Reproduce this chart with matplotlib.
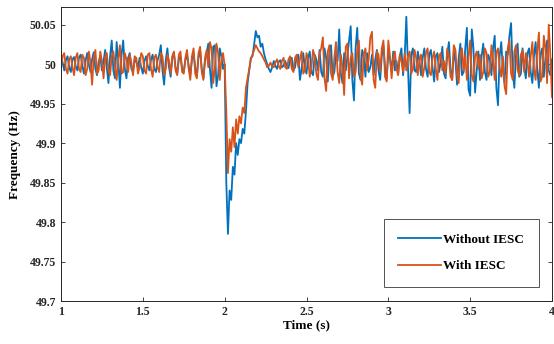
import numpy as np
import matplotlib
matplotlib.use("Agg")
import matplotlib.pyplot as plt

# time axis, 10 ms steps
t = np.round(np.arange(1.0, 4.0001, 0.01), 2)

# frequency deviation from 50 Hz, in mHz
dev_without = [
    12, 2, -8, 5, 10, -4, -10, 6, 9, -3,
    -8, 8, 12, -2, -12, 4, 14, 0, -10, 6,
    15, -6, -14, 3, 10, -8, 4, 18, -5, -24,
    10, 30, -8, -18, 28, 5, -30, 12, 30, -6,
    -18, 8, 14, -6, -10, 6, 3, -5, 8, -4,
    -12, 4, 10, -2, -8, 6, 12, -6, -10, 5,
    12, 24, -8, -26, 5, 20, -4, -16, 8, 14,
    -4, -12, 6, 10, -6, -10, 5, 12, -2, -14,
    6, 14, -4, -16, 8, 18, -6, -18, 4, 14,
    26, -6, -30, 22, 24, -28, -14, 20, 10, -6,
    0, -150, -215, -160, -172, -130, -140, -100, -115, -95,
    -100, -82, -88, -60, -24, -8, 8, 10, 25, 42,
    34, 36, 22, 26, 14, 6, 0, -6, -10, -4,
    4, -2, -6, 3, 5, -4, -2, 4, -3, -5,
    6, 8, -8, -4, 10, 12, -20, -6, 14, -4,
    -12, 8, 16, -10, -14, 12, 6, -8, 18, -10,
    -16, 20, 8, -22, 14, 24, -16, -10, 12, 4,
    44, -12, -24, 14, -8, 10, 30, 48, -20, -46,
    20, 46, -12, -20, 18, 10, -16, 14, -10, -4,
    12, -14, 6, 18, -8, -20, 10, 24, -4, -18,
    14, 8, -10, 16, -8, 4, -12, 10, 20, -14,
    10, 60, -4, -62, 12, 20, -8, -10, 16, 4,
    -14, 8, 20, -6, -16, 12, 18, -4, -22, 10,
    14, -10, 2, 22, -12, -18, 12, 28, -6, -20,
    16, 4, -26, 8, 26, -14, -10, 20, 46, -32,
    -40, 44, 20, -36, -8, 16, -20, 10, 26, -10,
    -20, 12, 6, -14, 20, 36, -30, -52, 10, 28,
    -8, -24, 16, 12, 36, 52, -10, -30, 14, 26,
    -16, -12, 20, -4, -18, 14, 20, -10, -24, 10,
    28, -6, -30, 12, 20, -16, 8, 30, -8, -14,
    6,
]

dev_with = [
    -6, 10, 14, -6, -12, 6, 10, -4, -14, 8,
    14, -6, -10, 12, 8, -14, -6, 16, 2, -26,
    8, 18, -12, -8, 16, 4, -18, 10, 14, -8,
    -14, 10, 16, -4, -20, 6, 24, -12, -10, 14,
    6, -10, 12, 2, -14, 10, 8, -12, -4, 14,
    10, -8, -12, 12, 14, -6, -16, 8, 12, -4,
    -10, 14, 10, -14, -6, 12, 4, -12, 10, 16,
    -8, -14, 12, 16, -10, -12, 8, 18, -6, -20,
    10, 20, -12, -18, 14, 22, -10, -20, 8, 18,
    -4, 28, 20, -24, -6, 26, 14, -20, 6, 14,
    -2, -60, -138, -95, -111, -80, -105, -70, -88, -66,
    -75, -55, -62, -30, -18, -6, 6, 12, 18, 24,
    20, 16, 14, 10, 6, 2, -4, -2, 2, -3,
    -4, 2, 6, -2, -6, 4, 8, -4, -6, 6,
    10, -6, -10, 8, 12, -4, 6, 16, -12, -8,
    14, 6, -16, -4, 18, 10, -12, -20, 14, 20,
    34, -18, -34, 16, 24, -12, -20, 8, 28, -10,
    -24, 12, -4, -39, 22, 26, -18, 8, 14, -16,
    -10, 18, 30, -14, -26, 12, 20, -8, 6, 34,
    41, -20, -30, 16, 12, -10, 20, 30, -16, -22,
    30, 10, -18, 8, 16, -6, -14, 12, 4, -10,
    14, -8, 10, 16, -12, -6, 18, 8, -14, 6,
    12, -16, -4, 14, 20, -10, -14, 8, 16, -6,
    -20, 10, 14, -8, 4, -12, 20, 10, -16, -20,
    24, 18, -14, -24, 14, 20, -8, 12, -20, 8,
    30, -14, -22, 10, 16, -6, 12, -18, -10, 20,
    14, -16, -10, 24, 6, -20, 14, 20, -4, -16,
    10, -28, -38, 20, 30, -12, -20, 16, 24, -8,
    -14, 12, 18, -10, 14, 4, -16, 10, 28, -6,
    -20, 16, 40, -22, -16, 36, 20, -24, 50, 10,
    -42,
]

f_without = 50 + np.array(dev_without) / 1000.0
f_with = 50 + np.array(dev_with) / 1000.0

xticks = [1, 1.5, 2, 2.5, 3, 3.5, 4]
xticklabels = ["1", "1.5", "2", "2.5", "3", "3.5", "4"]
yticks = [49.7, 49.75, 49.8, 49.85, 49.9, 49.95, 50, 50.05]
yticklabels = ["49.7", "49.75", "49.8", "49.85", "49.9", "49.95", "50", "50.05"]

plt.rcParams['font.family'] = ['Liberation Serif', 'DejaVu Serif']
plt.rcParams['font.weight'] = 'bold'

fig = plt.figure(figsize=(5.54, 3.44), dpi=100)
ax = fig.add_axes([61 / 554, 1 - 301 / 344, 491 / 554, 293.7 / 344])

ax.plot(t, f_without, color='#0072BD', lw=1.3, label='Without IESC')
ax.plot(t, f_with, color='#D95319', lw=1.3, label='With IESC')

ax.set_xlim(1, 4)
ax.set_ylim(49.7, 50.072)
ax.set_xticks(xticks)
ax.set_xticklabels(xticklabels)
ax.set_yticks(yticks)
ax.set_yticklabels(yticklabels)
ax.tick_params(direction='in', top=True, right=True, labelsize=8.5,
               length=3, width=0.6, colors='#262626')
for lab in ax.get_xticklabels() + ax.get_yticklabels():
    lab.set_fontweight('bold')
for s in ax.spines.values():
    s.set_color('#262626')
    s.set_linewidth(0.7)

ax.set_xlabel('Time (s)', fontsize=9.5, fontweight='bold', labelpad=1)
ax.set_ylabel('Frequency (Hz)', fontsize=9.5, fontweight='bold', labelpad=6)

leg = ax.legend(loc='lower right', bbox_to_anchor=(0.973, 0.048), borderaxespad=0,
                fontsize=9.5, frameon=True, fancybox=False, edgecolor='#262626',
                labelspacing=1.1, borderpad=1.1, handlelength=3.2, handletextpad=0.2)
leg.get_frame().set_linewidth(0.7)
for txt in leg.get_texts():
    txt.set_fontweight('bold')

fig.savefig('out.png', dpi=100)
